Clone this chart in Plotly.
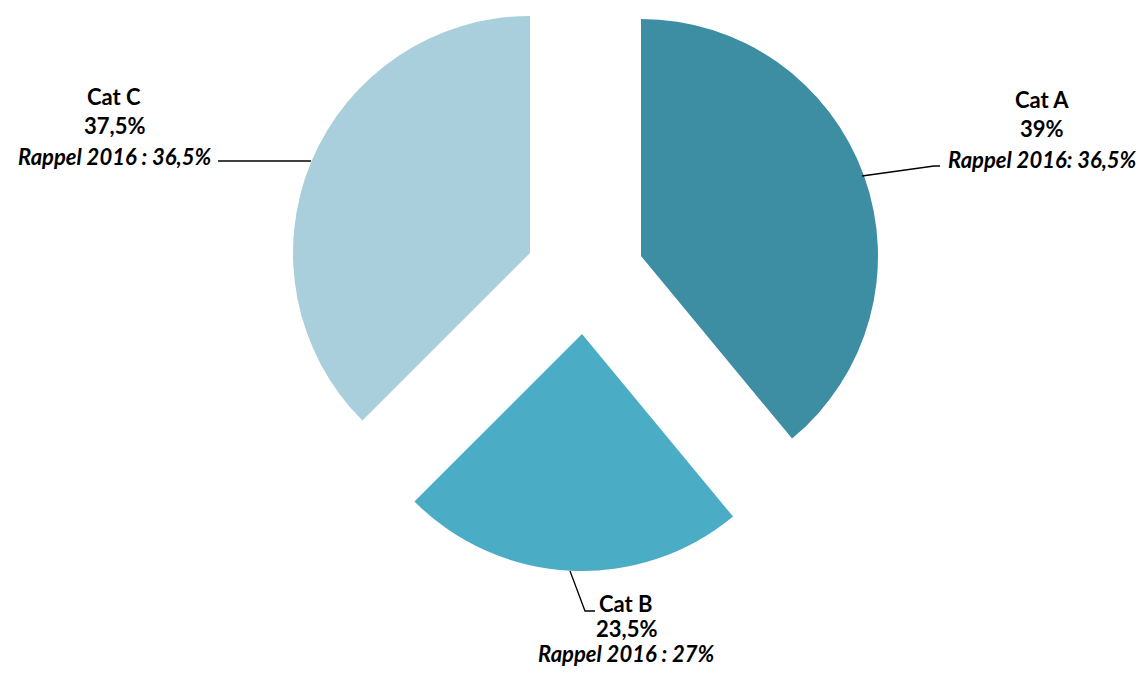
import plotly.graph_objects as go

# ---- data ----
categories = ["Cat A", "Cat B", "Cat C"]
shares = [39, 23.5, 37.5]
share_labels = ["39%", "23,5%", "37,5%"]
recall_labels = ["Rappel 2016: 36,5%", "Rappel 2016 : 27%", "Rappel 2016 : 36,5%"]

# ---- style / layout ----
OFF = 8  # page body margin
W, H = 1144 - 2 * OFF, 678 - 2 * OFF
colors = ["#3D8DA3", "#4BACC6", "#A9CFDC"]
transparent = "rgba(0,0,0,0)"
R = 237
centers = [(641, 256), (582, 334), (530, 253)]  # exploded wedge apex positions (screen px)
label_pos = [(1042, 99), (626, 603), (114, 96)]  # centre of first label line (screen px)
line_gaps = [30, 25, 30]
font_family = "Lato, 'Open Sans', sans-serif"
font_size = 22


def px(x):
    return (x - OFF) / W


def py(y):
    return 1 - (y - OFF) / H


fig = go.Figure()
for i, cat in enumerate(categories):
    cx, cy = centers[i]
    fig.add_trace(go.Pie(
        labels=categories,
        values=shares,
        sort=False,
        direction="clockwise",
        rotation=0,
        textinfo="none",
        hoverinfo="label+percent",
        showlegend=False,
        marker=dict(colors=[colors[j] if j == i else transparent for j in range(len(categories))],
                    line=dict(width=0)),
        domain=dict(x=[px(cx - R), px(cx + R)],
                    y=[py(cy + R), py(cy - R)]),
    ))

annotations = []
for i, cat in enumerate(categories):
    lx, ly = label_pos[i]
    lines = [f"<b>{cat}</b>", f"<b>{share_labels[i]}</b>", f"<b><i>{recall_labels[i]}</i></b>"]
    for k, t in enumerate(lines):
        annotations.append(dict(
            x=px(lx), y=py(ly + k * line_gaps[i]), xref="paper", yref="paper",
            text=t, showarrow=False, xanchor="center", yanchor="middle",
            font=dict(family=font_family, size=font_size, color="black"),
        ))

# leader lines (screen px paths)
leaders = [
    [(862, 176), (934, 166), (940, 166)],
    [(570, 571), (585, 611), (595, 611)],
    [(218, 161), (311, 161)],
]
shapes = []
for pts in leaders:
    path = "M " + " L ".join(f"{px(x)},{py(y)}" for x, y in pts)
    shapes.append(dict(type="path", path=path, xref="paper", yref="paper",
                       line=dict(color="black", width=1.3)))

fig.update_layout(
    width=W, height=H,
    margin=dict(l=0, r=0, t=0, b=0),
    paper_bgcolor="white", plot_bgcolor="white",
    annotations=annotations, shapes=shapes,
)

fig.write_html("out.html")
